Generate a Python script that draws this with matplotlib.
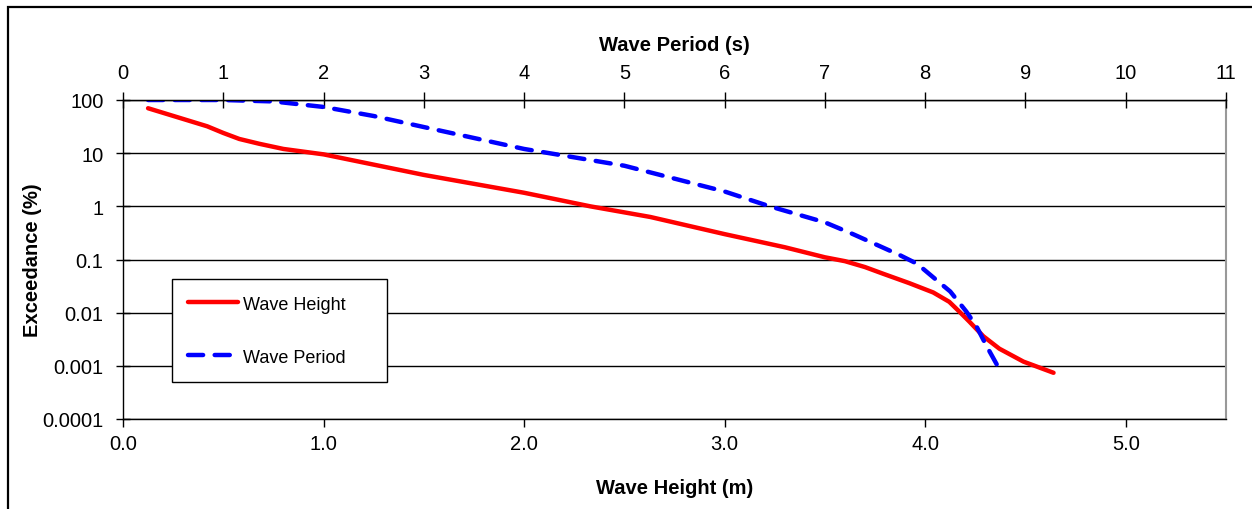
import matplotlib.pyplot as plt
from matplotlib.patches import Rectangle
from matplotlib.ticker import FixedLocator, FixedFormatter

# wave height exceedance (bottom axis, m)
height_m = [0.125, 0.42, 0.5, 0.58, 0.68, 0.8, 1.0, 1.5, 2.0, 2.33, 2.63, 3.0, 3.3,
            3.5, 3.6, 3.7, 3.79, 3.92, 4.04, 4.12, 4.17, 4.22, 4.29, 4.37, 4.49, 4.64]
height_exc = [70, 32, 24, 18.5, 15, 12, 9.5, 3.9, 1.8, 1.0, 0.63, 0.3, 0.17,
              0.11, 0.093, 0.072, 0.054, 0.036, 0.024, 0.016, 0.0105, 0.0068,
              0.0036, 0.0021, 0.0012, 0.00074]

# wave period exceedance (top axis, s)
period_s = [0.25, 1.0, 1.5, 2.0, 2.5, 3.0, 4.0, 5.0, 6.0, 6.45, 7.0, 7.28, 7.75,
            7.92, 8.12, 8.25, 8.41, 8.51, 8.61, 8.76]
period_exc = [100, 100, 94, 74, 50, 31, 12, 5.8, 1.9, 1.0, 0.5, 0.3, 0.12,
              0.083, 0.04, 0.025, 0.0105, 0.0056, 0.0024, 0.00074]

y_ticks = [100, 10, 1, 0.1, 0.01, 0.001, 0.0001]
y_labels = ['100', '10', '1', '0.1', '0.01', '0.001', '0.0001']

plt.rcParams.update({
    'font.family': ['Liberation Sans', 'DejaVu Sans'],
    'font.size': 14.5,
})

fig = plt.figure(figsize=(12.52, 5.1), dpi=100)
ax = fig.add_axes([123 / 1252, 1 - 420 / 510, 1103 / 1252, 319 / 510])

# outer chart frame
fig.patches.append(Rectangle((8 / 1252, -0.05), 1.1, 1 - 8 / 510 + 0.05,
                             transform=fig.transFigure, fill=False,
                             edgecolor='black', linewidth=1.6))

ax.set_yscale('log')
ax.set_ylim(0.0001, 100)
ax.set_xlim(0, 5.5)
ax.yaxis.set_major_locator(FixedLocator(y_ticks))
ax.yaxis.set_major_formatter(FixedFormatter(y_labels))
ax.yaxis.set_minor_locator(FixedLocator([]))
ax.set_xticks([0, 1, 2, 3, 4, 5])
ax.set_xticklabels(['0.0', '1.0', '2.0', '3.0', '4.0', '5.0'])
ax.tick_params(axis='x', direction='out', length=6, width=1, pad=5)
ax.tick_params(axis='y', direction='inout', length=10, width=1, pad=9)
ax.grid(axis='y', color='black', linewidth=1)
ax.set_axisbelow(True)

ax.spines['left'].set_linewidth(1)
ax.spines['bottom'].set_linewidth(1)
ax.spines['right'].set_color('#999999')
ax.spines['right'].set_linewidth(1.5)

l1, = ax.plot(height_m, height_exc, color='#ff0000', linewidth=3.2,
              solid_capstyle='round', solid_joinstyle='round', label='Wave Height')

ax2 = ax.twiny()
ax2.set_xlim(0, 11)
ax2.set_xticks(range(0, 12))
ax2.tick_params(axis='x', direction='inout', length=12, width=1, pad=7)
ax2.spines['top'].set_linewidth(1)
for s in ['left', 'right', 'bottom']:
    ax2.spines[s].set_visible(False)

l2, = ax2.plot(period_s, period_exc, color='#0000ff', linewidth=3.2,
               linestyle=(0, (3.4, 2.6)), dash_capstyle='round', label='Wave Period')

ax.set_xlabel('Wave Height (m)', fontweight='bold', labelpad=18)
ax.set_ylabel('Exceedance (%)', fontweight='bold', labelpad=0)
ax2.set_xlabel('Wave Period (s)', fontweight='bold', labelpad=9)

leg = ax2.legend(handles=[l1, l2], loc='lower left',
                 bbox_to_anchor=(0.044, 0.116, 0.195, 0.3), mode='expand',
                 fontsize=13, frameon=True, fancybox=False, edgecolor='black',
                 framealpha=1, labelspacing=2.0, handlelength=2.8,
                 handletextpad=0.25, borderpad=0.9, borderaxespad=0)
leg.get_frame().set_linewidth(1)

plt.savefig('out.png', dpi=100)
